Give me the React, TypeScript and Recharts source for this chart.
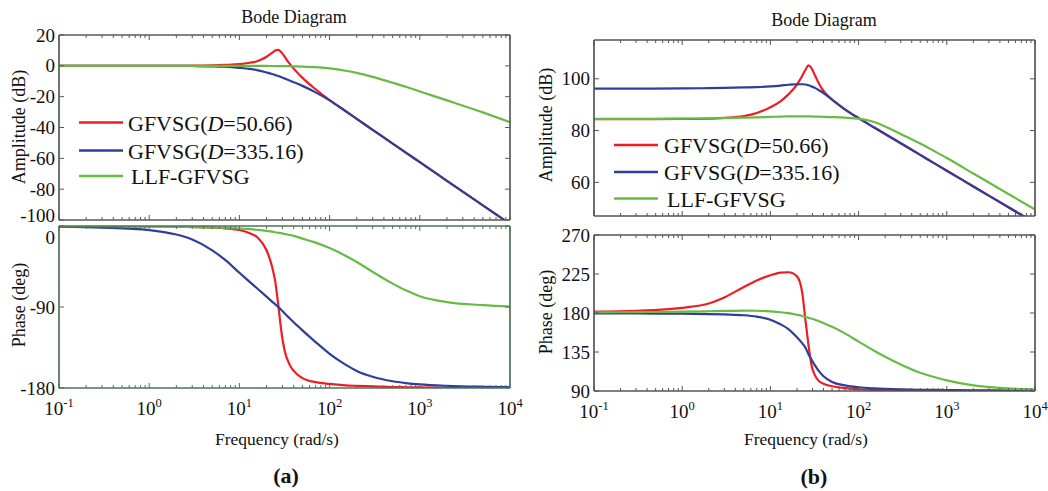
import React from "react";
import { LineChart, Line, XAxis, YAxis } from "recharts";

const W = 1048;
const H = 491;
const FONT = "'Liberation Serif', 'Times New Roman', serif";

// frequency grid (rad/s) shared by every curve
const freq = [0.1, 0.3, 1, 2, 3, 5, 7, 10, 13, 16, 20, 23, 25, 27, 29, 32, 36, 40, 50, 70, 100, 150, 200, 300, 500, 700, 1000, 2000, 5000, 10000];

// (a) amplitude, dB
const ampRedA = [0, 0, 0.02, 0.05, 0.1, 0.3, 0.6, 1.1, 2, 3.1, 5.9, 8.4, 9.9, 10.4, 9, 5.6, 1.4, -1.8, -7.8, -15.2, -22.2, -29.3, -34.4, -41.5, -50.4, -56.3, -62.5, -74.6, -90.5, -102.5];
const ampBlueA = [0, 0, -0.02, -0.06, -0.12, -0.3, -0.6, -1.3, -2, -2.9, -4.3, -5.3, -6, -6.6, -7.3, -8.3, -9.5, -10.6, -13, -17.2, -22.4, -29.4, -34.4, -41.5, -50.4, -56.3, -62.5, -74.6, -90.5, -102.5];
const ampGreenA = [0, 0, 0, 0, 0, 0, -0.01, -0.02, -0.03, -0.05, -0.07, -0.1, -0.12, -0.14, -0.16, -0.2, -0.25, -0.3, -0.45, -0.85, -1.7, -3.2, -4.6, -7.2, -11, -13.6, -16.6, -22.4, -30.2, -36.5];

// (a) phase, deg
const phRedA = [0, -0.1, -0.5, -0.8, -1.1, -1.8, -2.6, -4.5, -8, -13, -27, -45, -62, -88, -115, -140, -154, -161, -169, -173.5, -175.5, -177, -177.6, -178.3, -178.9, -179.2, -179.4, -179.7, -179.9, -180];
const phBlueA = [-0.8, -1.8, -4.5, -9.5, -15, -27, -38, -52, -62, -70, -78.5, -84, -87, -90, -93, -97.5, -102.5, -107, -116, -129, -142, -154, -161, -167.5, -172.5, -174.5, -176, -177.6, -178.6, -179];
const phGreenA = [-0.1, -0.2, -0.5, -0.8, -1.2, -1.7, -2.2, -2.8, -3.5, -4.3, -5.5, -6.3, -6.9, -7.5, -8, -8.9, -10, -11, -14, -18.5, -24.5, -33, -40, -51, -64, -71.5, -78, -84.5, -88, -89.5];

// (b) amplitude, dB
const ampRedB = [84.4, 84.4, 84.5, 84.6, 84.9, 85.6, 86.8, 89, 91.3, 94, 97.8, 101.2, 103.5, 105.2, 104.3, 101.3, 97.8, 95.3, 92, 88.2, 84.8, 81.2, 78.7, 75.1, 70.6, 67.6, 64.5, 58.4, 50.4, 44.3];
const ampBlueB = [96.2, 96.2, 96.3, 96.4, 96.5, 96.7, 96.8, 97.1, 97.4, 97.7, 97.9, 97.9, 97.8, 97.5, 97.1, 96.5, 95.5, 94.5, 92, 88.2, 84.8, 81.2, 78.7, 75.1, 70.6, 67.6, 64.5, 58.4, 50.4, 44.3];
const ampGreenB = [84.5, 84.5, 84.6, 84.7, 84.8, 85, 85.1, 85.3, 85.4, 85.5, 85.5, 85.5, 85.5, 85.5, 85.5, 85.4, 85.4, 85.3, 85.2, 85, 84.6, 83.3, 81.6, 78.7, 75, 72.3, 69.4, 63.4, 55.5, 49.5];

// (b) phase, deg
const phRedB = [181.5, 182.5, 186, 191, 198, 210, 217.5, 223.5, 226.5, 227, 222.3, 203, 171, 143.5, 121.5, 108, 101, 98.5, 95.5, 93.3, 92, 91.3, 91, 90.7, 90.5, 90.4, 90.3, 90.2, 90.1, 90.1];
const phBlueB = [179.5, 179.4, 179.2, 178.8, 178.3, 177.4, 175.8, 172.3, 167, 161.5, 152, 145, 140, 132.5, 127, 119.5, 112, 107, 100.5, 96.5, 94.3, 93, 92.4, 91.8, 91.4, 91.2, 91, 90.8, 90.6, 90.5];
const phGreenB = [180.8, 181, 181.5, 182, 182.4, 182.8, 182.6, 181.8, 180.9, 179.8, 178, 176.6, 175.5, 174.4, 173.6, 172.3, 170.3, 168.5, 164, 156.5, 147, 136.5, 129.5, 120.5, 111, 106.5, 102.3, 96.5, 93, 91.8];

const seriesNames = ["GFVSG(D=50.66)", "GFVSG(D=335.16)", "LLF-GFVSG"];
const seriesColors = ["#ee1c24", "#2e3f98", "#68bb42"];
const seriesKeys = ["red", "blue", "green"];

const decades = [0.1, 1, 10, 100, 1000, 10000];
const decadeExponents = ["-1", "0", "1", "2", "3", "4"];
const minorMultiples = [2, 3, 4, 5, 6, 7, 8, 9];
const xTicks = decades.flatMap((d, i) =>
  i < decades.length - 1 ? [d, ...minorMultiples.map((m) => d * m)] : [d]
);

const ampTicksA = [20, 0, -20, -40, -60, -80, -100];
const phTicksA = [0, -90, -180];
const ampTicksB = [60, 80, 100];
const phTicksB = [90, 135, 180, 225, 270];

function rowsOf(r: number[], b: number[], g: number[]) {
  return freq.map((f, i) => ({ f, red: r[i], blue: b[i], green: g[i] }));
}

function XTick(props: any) {
  const { x, y, payload, dir, frame, showLabel } = props;
  const idx = decades.indexOf(payload.value);
  const major = idx >= 0;
  return (
    <g>
      <line x1={x} x2={x} y1={y} y2={y + dir * (major ? 5 : 3)} stroke={frame} strokeWidth={1} />
      {showLabel && major && (
        <text x={x} y={y + 27} textAnchor="middle" fontFamily={FONT} fontSize={19} fill="#111">
          10
          <tspan dy={-8} fontSize={12.5}>{decadeExponents[idx]}</tspan>
        </text>
      )}
    </g>
  );
}

function YTick(props: any) {
  const { x, y, payload, dir, frame, showLabel, shifts } = props;
  const shift = (shifts && shifts[payload.value]) || 0;
  return (
    <g>
      <line x1={x} x2={x + dir * 5} y1={y} y2={y} stroke={frame} strokeWidth={1} />
      {showLabel && (
        <text x={x - 4} y={y + shift} textAnchor="end" dominantBaseline="central" fontFamily={FONT} fontSize={19} fill="#111">
          {payload.value}
        </text>
      )}
    </g>
  );
}

type Rect = { l: number; t: number; r: number; b: number };

function Panel(props: {
  rect: Rect;
  rows: any[];
  yDomain: [number, number];
  yTicks: number[];
  frame: string;
  xLabels: boolean;
  shifts?: Record<number, number>;
}) {
  const { rect, rows, yDomain, yTicks, frame, xLabels, shifts } = props;
  const axisLine = { stroke: frame, strokeWidth: 1.7 };
  return (
    <div style={{ position: "absolute", left: 0, top: 0 }}>
      <LineChart width={W} height={H} data={rows} margin={{ top: 0, right: 0, bottom: 0, left: 0 }}>
        <XAxis
          xAxisId="bottom"
          dataKey="f"
          type="number"
          scale="log"
          domain={[0.1, 10000]}
          allowDataOverflow
          ticks={xTicks}
          interval={0}
          height={H - rect.b}
          tickLine={false}
          tickSize={0}
          tickMargin={0}
          axisLine={axisLine}
          tick={(p: any) => <XTick {...p} dir={-1} frame={frame} showLabel={xLabels} />}
        />
        <XAxis
          xAxisId="top"
          orientation="top"
          dataKey="f"
          type="number"
          scale="log"
          domain={[0.1, 10000]}
          allowDataOverflow
          ticks={xTicks}
          interval={0}
          height={rect.t}
          tickLine={false}
          tickSize={0}
          tickMargin={0}
          axisLine={axisLine}
          tick={(p: any) => <XTick {...p} dir={1} frame={frame} showLabel={false} />}
        />
        <YAxis
          yAxisId="left"
          type="number"
          domain={yDomain}
          allowDataOverflow
          ticks={yTicks}
          interval={0}
          width={rect.l}
          tickLine={false}
          tickSize={0}
          tickMargin={0}
          axisLine={axisLine}
          tick={(p: any) => <YTick {...p} dir={1} frame={frame} showLabel shifts={shifts} />}
        />
        <YAxis
          yAxisId="right"
          orientation="right"
          type="number"
          domain={yDomain}
          allowDataOverflow
          ticks={yTicks}
          interval={0}
          width={W - rect.r}
          tickLine={false}
          tickSize={0}
          tickMargin={0}
          axisLine={axisLine}
          tick={(p: any) => <YTick {...p} dir={-1} frame={frame} showLabel={false} />}
        />
        {seriesKeys.map((k, i) => (
          <Line
            key={k}
            xAxisId="bottom"
            yAxisId="left"
            dataKey={k}
            name={seriesNames[i]}
            type="monotone"
            stroke={seriesColors[i]}
            strokeWidth={2.2}
            dot={false}
            activeDot={false}
            isAnimationActive={false}
          />
        ))}
      </LineChart>
    </div>
  );
}

function seriesLabel(name: string) {
  const k = name.indexOf("D=");
  if (k < 0) return <tspan dx={3}>{name}</tspan>;
  return (
    <>
      <tspan>{name.slice(0, k)}</tspan>
      <tspan fontStyle="italic">D</tspan>
      <tspan>{name.slice(k + 1)}</tspan>
    </>
  );
}

function LegendBox({ x0, x1, tx, rows }: { x0: number; x1: number; tx: number; rows: number[] }) {
  return (
    <g>
      {seriesNames.map((n, i) => (
        <g key={n}>
          <line x1={x0} x2={x1} y1={rows[i]} y2={rows[i]} stroke={seriesColors[i]} strokeWidth={2.4} />
          <text x={tx} y={rows[i]} dominantBaseline="central" fontFamily={FONT} fontSize={22} fill="#111">
            {seriesLabel(n)}
          </text>
        </g>
      ))}
    </g>
  );
}

function VLabel({ x, y, text }: { x: number; y: number; text: string }) {
  return (
    <text
      transform={`translate(${x},${y}) rotate(-90)`}
      textAnchor="middle"
      dominantBaseline="central"
      fontFamily={FONT}
      fontSize={18}
      fill="#111"
    >
      {text}
    </text>
  );
}

export default function App() {
  const ampA: Rect = { l: 59, t: 35, r: 510, b: 220 };
  const phA: Rect = { l: 59, t: 226, r: 510, b: 388 };
  const ampB: Rect = { l: 594, t: 40, r: 1035, b: 216 };
  const phB: Rect = { l: 594, t: 235, r: 1035, b: 391 };
  return (
    <div style={{ position: "absolute", left: 0, top: 0, width: W, height: H, background: "#fff", overflow: "hidden" }}>
      <Panel rect={ampA} rows={rowsOf(ampRedA, ampBlueA, ampGreenA)} yDomain={[-100, 20]} yTicks={ampTicksA} frame="#595959" xLabels={false} shifts={{ [-100]: -5 }} />
      <Panel rect={phA} rows={rowsOf(phRedA, phBlueA, phGreenA)} yDomain={[-180, 0]} yTicks={phTicksA} frame="#52705a" xLabels shifts={{ 0: 11 }} />
      <Panel rect={ampB} rows={rowsOf(ampRedB, ampBlueB, ampGreenB)} yDomain={[47, 115]} yTicks={ampTicksB} frame="#555555" xLabels={false} />
      <Panel rect={phB} rows={rowsOf(phRedB, phBlueB, phGreenB)} yDomain={[90, 270]} yTicks={phTicksB} frame="#555555" xLabels />
      <svg width={W} height={H} style={{ position: "absolute", left: 0, top: 0, pointerEvents: "none" }}>
        <text x={294} y={23} textAnchor="middle" fontFamily={FONT} fontSize={18} fill="#111">Bode Diagram</text>
        <text x={824} y={26} textAnchor="middle" fontFamily={FONT} fontSize={18} fill="#111">Bode Diagram</text>
        <VLabel x={19} y={127} text="Amplitude (dB)" />
        <VLabel x={19} y={305} text="Phase (deg)" />
        <VLabel x={546} y={125} text="Amplitude (dB)" />
        <VLabel x={546} y={312} text="Phase (deg)" />
        <text x={277} y={445} textAnchor="middle" fontFamily={FONT} fontSize={17.5} fill="#111">Frequency (rad/s)</text>
        <text x={806} y={445} textAnchor="middle" fontFamily={FONT} fontSize={17.5} fill="#111">Frequency (rad/s)</text>
        <text x={286} y={483} textAnchor="middle" fontFamily={FONT} fontSize={22} fontWeight="bold" fill="#111">(a)</text>
        <text x={814} y={484} textAnchor="middle" fontFamily={FONT} fontSize={22} fontWeight="bold" fill="#111">(b)</text>
        <LegendBox x0={79} x1={123} tx={128} rows={[122.5, 150.5, 176]} />
        <LegendBox x0={614} x1={658} tx={664} rows={[145, 172, 198.5]} />
      </svg>
    </div>
  );
}
